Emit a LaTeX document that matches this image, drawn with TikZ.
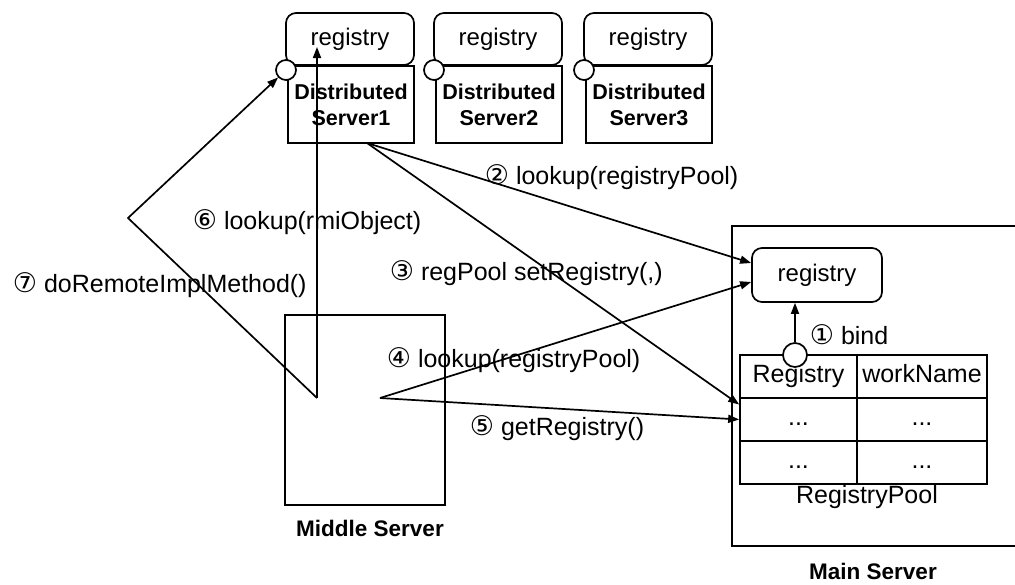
\documentclass[tikz,border=0pt]{standalone}
\usepackage{fontspec}
\setmainfont{Liberation Sans}
\newfontfamily\circfont{DejaVu Sans}
\usetikzlibrary{arrows.meta}
\newcommand{\cnum}[1]{{\circfont\fontsize{27}{28}\selectfont #1}}
\begin{document}
\begin{tikzpicture}[x=1pt,y=-1pt, line width=1.7pt,
  regbox/.style={draw, rounded corners=10pt, minimum width=128pt, minimum height=52pt, inner sep=0pt, font=\fontsize{24}{28}\selectfont},
  dsbox/.style={draw, minimum width=126pt, minimum height=77pt, inner sep=0pt, align=center, font=\fontsize{21.5}{26}\selectfont\bfseries},
  port/.style={draw, circle, fill=white, minimum size=20pt, inner sep=0pt},
  lbl/.style={anchor=west, inner sep=0pt, font=\fontsize{25}{29}\selectfont},
  cell/.style={draw, minimum height=43pt, inner sep=0pt, text height=17pt, text depth=5pt, font=\fontsize{25}{29}\selectfont},
  arr/.style={-{Triangle[length=11pt,width=8pt]}},
  capt/.style={inner sep=0pt, font=\fontsize{22.5}{26}\selectfont\bfseries},
  plain/.style={inner sep=0pt, font=\fontsize{25}{29}\selectfont},
]
\useasboundingbox (0,0) rectangle (1015,584);

% distributed servers
\foreach \i/\L in {1/286,2/434,3/584}{
  \node[regbox] (reg\i) at ({\L+64},39) {registry};
  \node[dsbox] (ds\i) at ({\L+65},104.5) {Distributed\\Server\i};
  \node[port] (c\i) at ({\L},70) {};
}

% middle server
\node[draw, minimum width=160pt, minimum height=190pt, inner sep=0pt] (mid) at (365,410) {};
\node[capt] (midlbl) at (370,528) {Middle Server};

% main server (right side runs off the picture)
\coordinate (msTR) at (1016,226);
\coordinate (msBR) at (1016,546);
\draw (msTR) -| (732,546) -- (msBR);
\node[capt] (mainlbl) at (873,571) {Main Server};

\node[regbox, minimum width=130pt, minimum height=54pt] (mreg) at (817,275) {registry};

% registry pool table
\node[cell, minimum width=117pt] (t01) at (798.5,376.5) {Registry};
\node[cell, minimum width=130pt] (t02) at (922,376.5) {workName};
\node[cell, minimum width=117pt] (t11) at (798.5,419.5) {...};
\node[cell, minimum width=130pt] (t12) at (922,419.5) {...};
\node[cell, minimum width=117pt] (t21) at (798.5,462.5) {...};
\node[cell, minimum width=130pt] (t22) at (922,462.5) {...};
\node[plain] (poollbl) at (867,497) {RegistryPool};

\node[port, minimum size=24pt] (bc) at (795,355) {};
\draw[arr] (bc) -- (bc |- mreg.south);
\node[lbl] (l1) at (809,335) {\cnum{①} bind};

% connector origins
\coordinate (o23) at (367,143);
\coordinate (o67) at (317,398);
\coordinate (o45) at (380,398);
\coordinate (tip6) at (317,47);
\coordinate (bend7) at (128,218);

\draw[arr] (o23) -- ([yshift=12pt]mreg.west);
\draw[arr] (o23) -- ([yshift=15pt]t11.west);
\draw[arr] (o45) -- ([yshift=-7pt]mreg.west);
\draw[arr] (o45) -- (t11.west);
\draw[arr] (o67) -- (tip6);
\draw[arr] (o67) -- (bend7) -- (c1);

% labels
\node[lbl] (l2) at (484,177) {\cnum{②} lookup(registryPool)};
\node[lbl] (l3) at (389,273) {\cnum{③} regPool setRegistry(,)};
\node[lbl] (l4) at (386,360) {\cnum{④} lookup(registryPool)};
\node[lbl] (l5) at (469,428) {\cnum{⑤} getRegistry()};
\node[lbl] (l6) at (192,222) {\cnum{⑥} lookup(rmiObject)};
\node[lbl] (l7) at (12,285) {\cnum{⑦} doRemoteImplMethod()};
\end{tikzpicture}
\end{document}
